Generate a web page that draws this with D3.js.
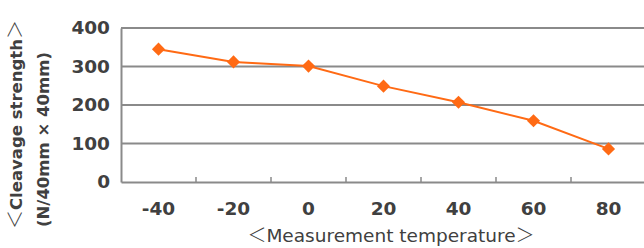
<!DOCTYPE html>
<html><head><meta charset="utf-8">
<script src="https://cdn.jsdelivr.net/npm/d3@7/dist/d3.min.js"></script>
<style>body{margin:0;background:#fff}svg{display:block}</style>
</head><body>
<svg id="c" width="644" height="248"></svg>
<script>
const categories = ["-40","-20","0","20","40","60","80"];
const strength = [345, 312, 301, 249, 207, 159, 86];
const yTicks = [0,100,200,300,400];
const xTitle = "Measurement temperature";
const yTitle = "Cleavage strength";
const yUnit = "(N/40mm × 40mm)";

const svg = d3.select("#c");
const L = 121, R = 646, T = 28, B = 182;
const x = d3.scaleBand().domain(categories).range([L, R]);
const y = d3.scaleLinear().domain([0,400]).range([B, T]);
const grey = "#8a8a8a", txt = "#404040", orange = "#ff6a14";
const tickFont = "bold 18.5px 'DejaVu Sans', sans-serif";
const brFont = "'Noto Sans CJK JP', sans-serif";

// gridlines
svg.append("g").selectAll("line").data(yTicks.filter(d=>d>0)).join("line")
  .attr("x1", L).attr("x2", 644).attr("y1", d=>y(d)).attr("y2", d=>y(d))
  .attr("stroke", grey).attr("stroke-width", 2);

// y axis
const ya = svg.append("g").attr("transform", `translate(${L},0)`)
  .call(d3.axisLeft(y).tickValues(yTicks).tickSize(0).tickPadding(11));
ya.select(".domain").attr("stroke", grey).attr("stroke-width", 2);
ya.selectAll("text").attr("fill", txt).style("font", tickFont);

// x axis
const xa = svg.append("g").attr("transform", `translate(0,${B})`)
  .call(d3.axisBottom(x).tickSize(0));
xa.select(".domain").attr("stroke", grey).attr("stroke-width", 2);
xa.selectAll("text").attr("fill", txt).style("font", tickFont)
  .attr("y", 33).attr("dy", null);
// tick marks at band boundaries
xa.append("g").selectAll("line").data(categories.slice(1)).join("line")
  .attr("x1", d=>x(d)).attr("x2", d=>x(d)).attr("y1", 0).attr("y2", -5)
  .attr("stroke", grey).attr("stroke-width", 1.5);

// line
const cx = d => x(d) + x.bandwidth()/2;
svg.append("path").datum(categories.map((c,i)=>[c,strength[i]]))
  .attr("fill","none").attr("stroke", orange).attr("stroke-width", 2)
  .attr("d", d3.line().x(d=>cx(d[0])).y(d=>y(d[1])));
svg.append("g").selectAll("path").data(categories.map((c,i)=>[c,strength[i]])).join("path")
  .attr("transform", d=>`translate(${cx(d[0])},${y(d[1])})`)
  .attr("d", d3.symbol().type(d3.symbolDiamond2).size(110))
  .attr("fill", orange);

// axis titles
function bracketed(sel, label, fs, bfs, weight) {
  sel.append("tspan").style("font", `300 ${bfs}px ${brFont}`).text("＜");
  sel.append("tspan").style("font", `${weight} ${fs}px 'DejaVu Sans', sans-serif`).text(label);
  sel.append("tspan").style("font", `300 ${bfs}px ${brFont}`).text("＞");
}
const xt = svg.append("text").attr("x", 391).attr("y", 242).attr("text-anchor","middle")
  .attr("fill", txt);
bracketed(xt, xTitle, 18.5, 19, 500);
const yt = svg.append("g").attr("transform","translate(0,229) rotate(-90)");
const yt1 = yt.append("text").attr("x",0).attr("y",22).attr("fill", txt);
bracketed(yt1, yTitle, 16.5, 19, "bold");
yt.append("text").attr("x",2).attr("y",49).attr("fill", txt)
  .style("font", "bold 16.5px 'DejaVu Sans', sans-serif").text(yUnit);
</script>
</body></html>
